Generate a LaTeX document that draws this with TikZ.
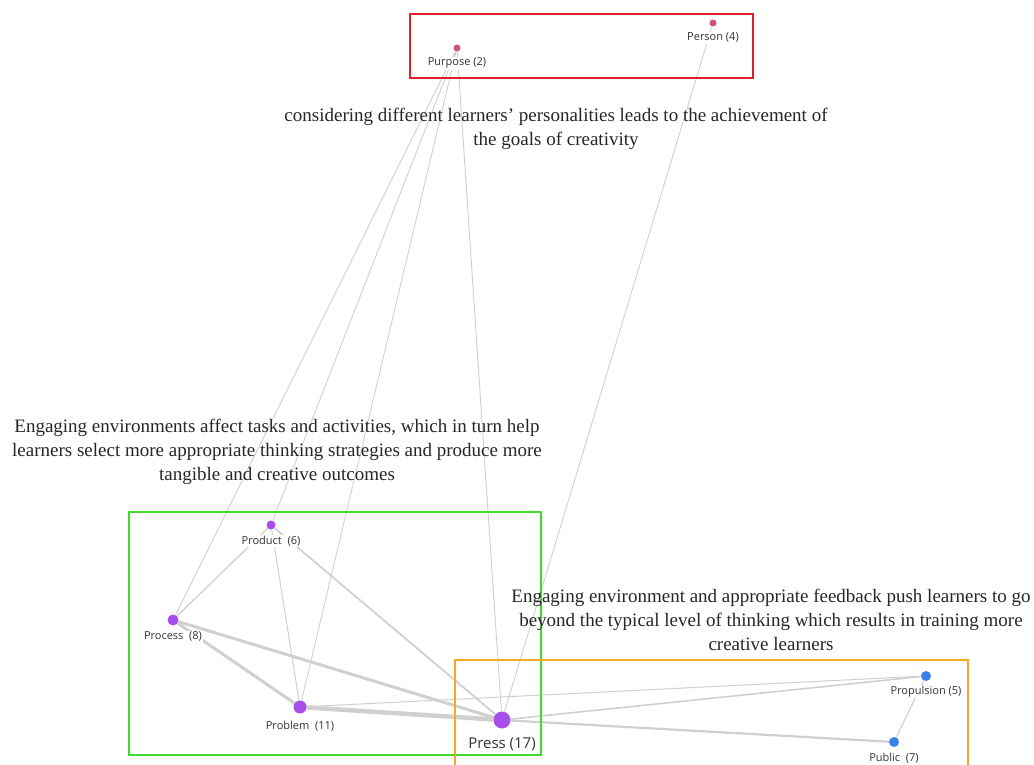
\documentclass[tikz,border=0pt]{standalone}
\usepackage{fontspec}
\setmainfont{Liberation Serif}
\setsansfont{Open Sans}
\usepackage{tikz}
\usetikzlibrary{positioning}

\pgfdeclarelayer{edges}
\pgfsetlayers{edges,main}

\definecolor{edgegray}{HTML}{D0D0D0}
\definecolor{vpurple}{HTML}{A64FEA}
\definecolor{vpink}{HTML}{D2507E}
\definecolor{vblue}{HTML}{3C80EA}
\definecolor{boxred}{HTML}{E31E24}
\definecolor{boxgreen}{HTML}{3CDC28}
\definecolor{boxorange}{HTML}{F7A823}

\begin{document}
\begin{tikzpicture}[x=1pt,y=-1pt,
    vertex/.style={circle,fill=#1,inner sep=0pt},
    lbl/.style={font=\sffamily\fontsize{11}{13}\selectfont,fill=white,inner sep=1pt,text=black!80},
    note/.style={font=\fontsize{19}{24}\selectfont,align=center,text=black!85},
    link/.style={draw=edgegray,line width=#1},
    group/.style={line width=2pt}]
    \useasboundingbox (0,0) rectangle (1034,765);

    % vertices
    \node[vertex=vpink,minimum size=7pt] (purpose) at (457,48) {};
    \node[vertex=vpink,minimum size=7pt] (person) at (713,23) {};
    \node[vertex=vpurple,minimum size=9pt] (product) at (271,525) {};
    \node[vertex=vpurple,minimum size=11pt] (process) at (173,620) {};
    \node[vertex=vpurple,minimum size=13pt] (problem) at (300,707) {};
    \node[vertex=vpurple,minimum size=17pt] (press) at (502,720) {};
    \node[vertex=vblue,minimum size=10pt] (propulsion) at (926,676) {};
    \node[vertex=vblue,minimum size=10pt] (public) at (894,742) {};

    % edges
    \begin{pgfonlayer}{edges}
        \draw[link=0.9pt] (purpose) -- (process);
        \draw[link=0.9pt] (purpose) -- (product);
        \draw[link=0.9pt] (purpose) -- (problem);
        \draw[link=0.9pt] (purpose) -- (press);
        \draw[link=0.9pt] (person) -- (press);
        \draw[link=1.3pt] (product) -- (process);
        \draw[link=1pt] (product) -- (problem);
        \draw[link=1.8pt] (product) -- (press);
        \draw[link=3pt] (process) -- (problem);
        \draw[link=3pt] (process) -- (press);
        \draw[link=4.5pt] (problem) -- (press);
        \draw[link=1pt] (problem) -- (propulsion);
        \draw[link=1.6pt] (press) -- (propulsion);
        \draw[link=2.2pt] (press) -- (public);
        \draw[link=1.2pt] (propulsion) -- (public);
    \end{pgfonlayer}

    % labels
    \node[lbl,below=5pt of purpose] (purpose-l) {Purpose (2)};
    \node[lbl,below=5pt of person] (person-l) {Person (4)};
    \node[lbl,below=5pt of product] (product-l) {Product~ (6)};
    \node[lbl,below=5pt of process] (process-l) {Process~ (8)};
    \node[lbl,below=6pt of problem] (problem-l) {Problem~ (11)};
    \node[lbl,below=8pt of press,font=\sffamily\fontsize{15}{17}\selectfont] (press-l) {Press (17)};
    \node[lbl,below=4pt of propulsion] (propulsion-l) {Propulsion (5)};
    \node[lbl,below=5pt of public] (public-l) {Public~ (7)};

    % groups
    \draw[group,boxred] (410,14) rectangle (753,78);
    \draw[group,boxgreen] (129,512) rectangle (541,755);
    \draw[group,boxorange] (455,660) rectangle (968,770);

    % comments on the groups
    \node[note] (note-top) at (556,129) {considering different learners' personalities leads to the achievement of\\the goals of creativity};
    \node[note] (note-left) at (277,452) {Engaging environments affect tasks and activities, which in turn help\\learners select more appropriate thinking strategies and produce more\\tangible and creative outcomes};
    \node[note] (note-right) at (771,620) {Engaging environment and appropriate feedback push learners to go\\beyond the typical level of thinking which results in training more\\creative learners};
\end{tikzpicture}
\end{document}
